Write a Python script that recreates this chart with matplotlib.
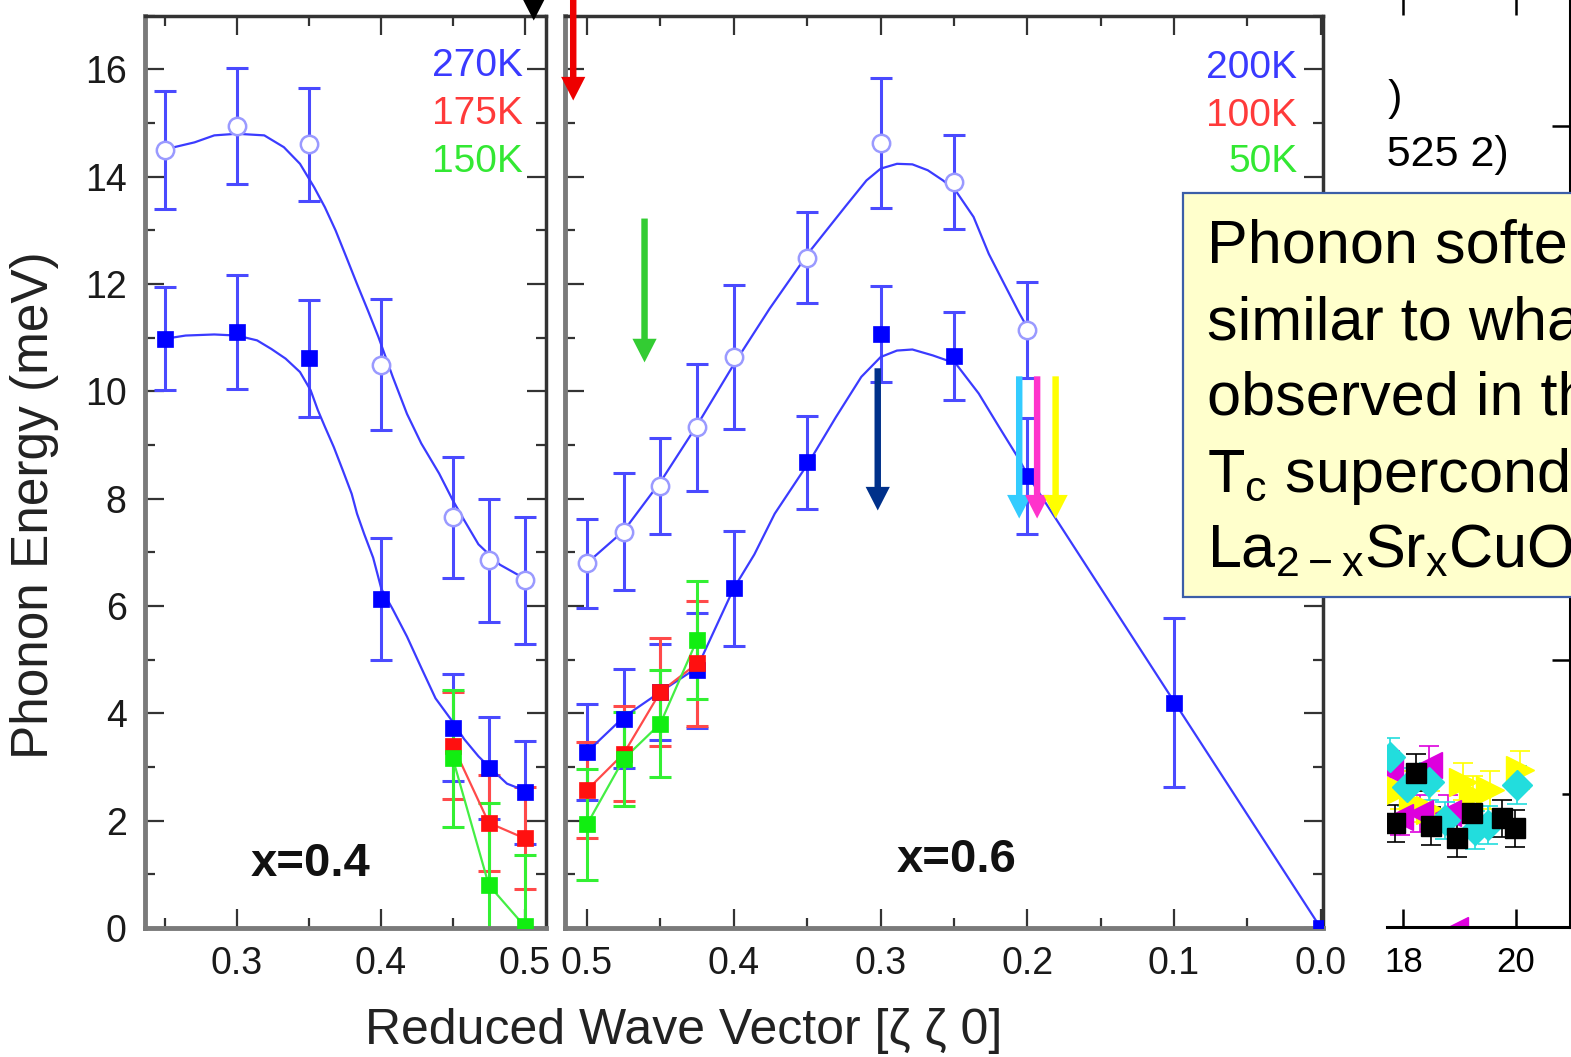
# phonon_dispersion.py
# Phonon softening: two dispersion panels + note box

import numpy as np
import matplotlib
matplotlib.use("Agg")
import matplotlib.pyplot as plt
from matplotlib.patches import Rectangle
from matplotlib.ticker import MultipleLocator, FormatStrFormatter, FixedLocator

plt.rcParams['font.family'] = ['Liberation Sans', 'DejaVu Sans']

# ===============================
# DATA
# ===============================
# --- left panel, x = 0.4 ---
q_left = [0.25, 0.30, 0.35, 0.40, 0.45, 0.475, 0.50]
e270_open = [14.50, 14.95, 14.60, 10.50, 7.65, 6.85, 6.48]
e270_open_err = [1.10, 1.08, 1.06, 1.22, 1.13, 1.14, 1.18]
e270_fill = [10.98, 11.10, 10.62, 6.13, 3.73, 2.98, 2.53]
e270_fill_err = [0.96, 1.06, 1.09, 1.14, 1.00, 0.95, 0.96]

q_left_low = [0.45, 0.475, 0.50]
e175 = [3.40, 1.96, 1.67]
e175_err = [1.00, 0.90, 0.95]
e150 = [3.16, 0.80, 0.03]
e150_err = [1.27, 1.53, 1.33]

# guide-to-the-eye curves (left panel)
fit_left_up_q = [0.2502, 0.2707, 0.2844, 0.300, 0.3191, 0.3327, 0.3439, 0.3538, 0.3612,
                 0.3686, 0.3761, 0.3835, 0.391, 0.3984, 0.4083, 0.4182, 0.4281, 0.4405,
                 0.450, 0.4579, 0.4678, 0.4827, 0.500]
fit_left_up_e = [14.51, 14.64, 14.77, 14.80, 14.77, 14.55, 14.24, 13.80, 13.43,
                 13.00, 12.50, 12.00, 11.51, 11.01, 10.27, 9.58, 9.03, 8.47,
                 7.97, 7.60, 7.15, 6.77, 6.51]
fit_left_lo_q = [0.2502, 0.2645, 0.2844, 0.300, 0.3141, 0.324, 0.3339, 0.3439, 0.3513,
                 0.3563, 0.3612, 0.3674, 0.3736, 0.3798, 0.3835, 0.3885, 0.3947, 0.4004,
                 0.4083, 0.4182, 0.4281, 0.438, 0.450, 0.4579, 0.4678, 0.4757, 0.4876, 0.500]
fit_left_lo_e = [10.98, 11.04, 11.06, 11.04, 10.95, 10.79, 10.61, 10.36, 10.02,
                 9.65, 9.34, 8.96, 8.53, 8.09, 7.72, 7.34, 6.90, 6.32,
                 5.94, 5.43, 4.85, 4.28, 3.84, 3.52, 3.20, 2.99, 2.69, 2.56]

# --- right panel, x = 0.6 ---
q_right_open = [0.50, 0.475, 0.45, 0.425, 0.40, 0.35, 0.30, 0.25, 0.20]
e200_open = [6.80, 7.38, 8.24, 9.33, 10.64, 12.49, 14.62, 13.90, 11.14]
e200_open_err = [0.83, 1.09, 0.90, 1.18, 1.35, 0.85, 1.21, 0.88, 0.90]

q_right_fill = [0.50, 0.475, 0.45, 0.425, 0.40, 0.35, 0.30, 0.25, 0.20, 0.10, 0.00]
e200_fill = [3.28, 3.90, 4.40, 4.80, 6.33, 8.68, 11.07, 10.66, 8.43, 4.20, 0.00]
e200_fill_err = [0.90, 0.92, 0.90, 1.07, 1.07, 0.87, 0.90, 0.82, 1.08, 1.57, 0.0]

q_right_low = [0.50, 0.475, 0.45, 0.425]
e100 = [2.57, 3.25, 4.40, 4.93]
e100_err = [0.90, 0.89, 1.00, 1.16]
e50 = [1.93, 3.15, 3.81, 5.37]
e50_err = [1.03, 0.87, 0.99, 1.10]

fit_right_up_q = [0.50, 0.475, 0.4493, 0.4243, 0.3996, 0.3756, 0.3488, 0.3235, 0.3096,
                  0.2999, 0.2888, 0.2783, 0.2678, 0.2574, 0.2488, 0.2366, 0.2262,
                  0.2157, 0.2053, 0.199]
fit_right_up_e = [6.80, 7.40, 8.34, 9.40, 10.52, 11.54, 12.59, 13.46, 13.93,
                  14.15, 14.24, 14.23, 14.12, 13.93, 13.74, 13.25, 12.56,
                  12.00, 11.45, 11.14]
fit_right_lo_q = [0.50, 0.475, 0.45, 0.425, 0.40, 0.386, 0.3721, 0.3488, 0.3304, 0.3131,
                  0.2999, 0.2888, 0.2783, 0.2644, 0.2488, 0.2331, 0.2193, 0.2053,
                  0.20, 0.10, 0.00]
fit_right_lo_e = [3.28, 3.93, 4.40, 4.85, 6.33, 6.96, 7.72, 8.68, 9.52, 10.27,
                  10.64, 10.76, 10.78, 10.67, 10.52, 9.96, 9.34, 8.72,
                  8.45, 4.22, 0.00]

# --- arrows marking the soft-mode positions (right panel) ---
arrow_q = [0.5094, 0.4608, 0.3019, 0.2055, 0.1933, 0.1807]
arrow_top = [19.0, 13.22, 10.43, 10.28, 10.28, 10.28]
arrow_tip = [15.42, 10.54, 7.78, 7.63, 7.63, 7.63]
arrow_colors = ['#ee0000', '#33cc33', '#00308a', '#33ccff', '#ff33cc', '#ffff00']

# --- partial neighbouring plot at the right edge ---
p3_black_x = [18.23, 17.85, 18.49, 18.96, 19.23, 19.75, 19.99]
p3_black_y = [0.578, 0.388, 0.378, 0.332, 0.426, 0.407, 0.370]
p3_cyan_x = [17.76, 18.06, 18.45, 18.74, 19.28, 19.51, 20.02]
p3_cyan_y = [0.638, 0.525, 0.544, 0.400, 0.363, 0.382, 0.532]
p3_mag_x = [17.76, 17.94, 18.30, 18.45, 18.80, 18.92]
p3_mag_y = [0.588, 0.413, 0.426, 0.607, 0.426, -0.01]
p3_mag_err = [0.07, 0.07, 0.07, 0.07, 0.07, 0.0]
p3_yel_x = [17.94, 18.18, 18.47, 19.07, 19.25, 19.54, 20.08]
p3_yel_y = [0.513, 0.463, 0.438, 0.544, 0.494, 0.513, 0.588]
p3_err = 0.07

note_lines = ["Phonon softening",
              "similar to what is",
              "observed in the high",
              r"T$_\mathregular{c}$ superconductor",
              r"La$_\mathregular{2-x}$Sr$_\mathregular{x}$CuO$_\mathregular{4}$"]

# ===============================
# FIGURE LAYOUT (pixel boxes)
# ===============================
W, H = 1571, 1057
fig = plt.figure(figsize=(W / 100, H / 100), dpi=100)


def px_box(x0, y0, x1, y1):
    return [x0 / W, 1 - y1 / H, (x1 - x0) / W, (y1 - y0) / H]


ax1 = fig.add_axes(px_box(144.6, 15.7, 546.4, 928))
ax2 = fig.add_axes(px_box(565, 15.7, 1323, 928))
ax3 = fig.add_axes(px_box(1387, -3, 1570, 927))

BLUE = '#0000ff'
BLUE_LINE = '#3b3bff'
BLUE_ERR = '#4a4aff'
RED = '#ff1010'
GREEN = '#11ee11'


def style_panel(ax):
    ax.set_ylim(0, 17)
    ax.yaxis.set_major_locator(MultipleLocator(2))
    ax.yaxis.set_minor_locator(MultipleLocator(1))
    ax.xaxis.set_major_locator(MultipleLocator(0.1))
    ax.xaxis.set_minor_locator(MultipleLocator(0.05))
    ax.xaxis.set_major_formatter(FormatStrFormatter('%.1f'))
    ax.tick_params(which='both', direction='in', top=True, right=True,
                   color='#333333', width=1.6, labelsize=27,
                   labelcolor='#1a1a1a', pad=13)
    ax.tick_params(which='major', length=14)
    ax.tick_params(which='minor', length=7)
    for side in ('left', 'bottom'):
        ax.spines[side].set_color('#7a7a7a')
        ax.spines[side].set_linewidth(3.5)
    for side in ('top', 'right'):
        ax.spines[side].set_color('#333333')
        ax.spines[side].set_linewidth(2.5)


def err_series(ax, q, e, err, color, lw=2.2):
    q = np.asarray(q)
    e = np.asarray(e)
    err = np.asarray(err)
    m = err > 0
    ax.errorbar(q[m], e[m], yerr=err[m], fmt='none', ecolor=color,
                elinewidth=lw, capsize=8, capthick=2.2, zorder=2)


def squares(ax, q, e, color, z=4):
    ax.plot(q, e, 's', ms=11.5, color=color, mec=color, mew=0.5, zorder=z)


def circles(ax, q, e):
    ax.plot(q, e, 'o', ms=12.5, mfc='white', mec='#9a9aff', mew=1.8, zorder=4)


# ===============================
# LEFT PANEL  x = 0.4
# ===============================
style_panel(ax1)
ax1.set_xlim(0.236, 0.515)

err_series(ax1, q_left, e270_open, e270_open_err, BLUE_ERR)
err_series(ax1, q_left, e270_fill, e270_fill_err, BLUE_ERR)
err_series(ax1, q_left_low, e175, e175_err, '#ff4a4a')
err_series(ax1, q_left_low, e150, e150_err, '#33f033')

ax1.plot(fit_left_up_q, fit_left_up_e, color=BLUE_LINE, lw=1.6, zorder=3)
ax1.plot(fit_left_lo_q, fit_left_lo_e, color=BLUE_LINE, lw=1.6, zorder=3)
ax1.plot(q_left_low, e175, color='#ff4a4a', lw=1.6, zorder=3)
ax1.plot(q_left_low, e150, color='#44ee44', lw=1.6, zorder=3)

circles(ax1, q_left, e270_open)
squares(ax1, q_left, e270_fill, BLUE)
squares(ax1, q_left_low, e175, RED, z=5)
squares(ax1, q_left_low, e150, GREEN, z=6)

for txt, yb, c in [('270K', 15.88, '#3a3aff'), ('175K', 14.99, '#ff3a3a'),
                   ('150K', 14.08, '#33e833')]:
    ax1.text(0.4986, yb, txt, color=c, fontsize=28, ha='right', va='baseline')
ax1.text(0.351, 0.968, 'x=0.4', fontsize=34, fontweight='bold',
         ha='center', va='baseline', color='#111111')

# ===============================
# RIGHT PANEL  x = 0.6
# ===============================
style_panel(ax2)
ax2.set_xlim(0.515, -0.0015)
ax2.tick_params(which='both', labelleft=False)

err_series(ax2, q_right_open, e200_open, e200_open_err, BLUE_ERR)
err_series(ax2, q_right_fill, e200_fill, e200_fill_err, BLUE_ERR)
err_series(ax2, q_right_low, e100, e100_err, '#ff4a4a')
err_series(ax2, q_right_low, e50, e50_err, '#33f033')

ax2.plot(fit_right_up_q, fit_right_up_e, color=BLUE_LINE, lw=1.6, zorder=3)
ax2.plot(fit_right_lo_q, fit_right_lo_e, color=BLUE_LINE, lw=1.6, zorder=3)
ax2.plot(q_right_low, e100, color='#ff4a4a', lw=1.6, zorder=3)
ax2.plot(q_right_low, e50, color='#44ee44', lw=1.6, zorder=3)

circles(ax2, q_right_open, e200_open)
squares(ax2, q_right_fill, e200_fill, BLUE)
squares(ax2, q_right_low, e100, RED, z=5)
squares(ax2, q_right_low, e50, GREEN, z=6)

for txt, yb, c in [('200K', 15.83, '#3a3aff'), ('100K', 14.95, '#ff3a3a'),
                   ('50K', 14.08, '#33e833')]:
    ax2.text(0.016, yb, txt, color=c, fontsize=28, ha='right', va='baseline')
ax2.text(0.2483, 1.04, 'x=0.6', fontsize=34, fontweight='bold',
         ha='center', va='baseline', color='#111111')

# arrows (sizes: x in q units, y in meV)
for q, y0, y1, c in zip(arrow_q, arrow_top, arrow_tip, arrow_colors):
    ax2.arrow(q, y0, 0, y1 - y0, width=0.0044, head_width=0.0165,
              head_length=0.44, length_includes_head=True,
              color=c, lw=0, zorder=8, clip_on=False)

# black arrow tip entering from the top of the left panel
ax1.arrow(0.5062, 19.0, 0, 16.91 - 19.0, width=0.0042, head_width=0.018,
          head_length=0.47, length_includes_head=True, color='black',
          lw=0, zorder=8, clip_on=False)

# axis labels
fig.text(684 / W, 1 - 1044 / H, 'Reduced Wave Vector [\u03b6 \u03b6 0]',
         fontsize=36, color='#222222', ha='center', va='baseline')
fig.text(48 / W, 1 - 505 / H, 'Phonon Energy (meV)', fontsize=37,
         color='#222222', rotation=90, rotation_mode='anchor',
         ha='center', va='baseline')

# ===============================
# PARTIAL NEIGHBOUR PLOT (right edge)
# ===============================
ax3.set_xlim(17.71, 20.97)
ax3.set_ylim(0, 930 / 267)
ax3.spines['left'].set_visible(False)
for side in ('bottom', 'right', 'top'):
    ax3.spines[side].set_color('black')
    ax3.spines[side].set_linewidth(2.2)
ax3.xaxis.set_major_locator(FixedLocator([18, 20]))
ax3.yaxis.set_major_locator(FixedLocator([1, 2, 3]))
ax3.yaxis.set_minor_locator(FixedLocator([0.5, 1.5, 2.5]))
ax3.tick_params(which='both', direction='in', top=True, right=True, left=False,
                labelleft=False, color='black', width=1.8, labelsize=25, pad=14)
ax3.tick_params(which='major', length=13)
ax3.tick_params(which='minor', length=6)

for xs, ys, er, mk, c, ms in [(p3_yel_x, p3_yel_y, p3_err, '>', '#ffff00', 20),
                              (p3_mag_x, p3_mag_y, p3_mag_err, '<', '#dd00dd', 19),
                              (p3_cyan_x, p3_cyan_y, p3_err, 'D', '#22dddd', 15),
                              (p3_black_x, p3_black_y, p3_err, 's', 'black', 15)]:
    ax3.errorbar(xs, ys, yerr=er, fmt=mk, ms=ms, color=c, mec=c,
                 ecolor=c, elinewidth=1.2, capsize=7, capthick=1.2)

ax3.text(17.98, 3.06, '(0.475 0.475 2)', fontsize=31, ha='right',
         va='baseline', clip_on=True)
ax3.text(19.87, 2.85, '(0.525 0.525 2)', fontsize=31, ha='right',
         va='baseline', clip_on=True)

# ===============================
# NOTE BOX
# ===============================
box = Rectangle((1183.3 / W, 1 - 596.7 / H), (1620 - 1183.3) / W, (596.7 - 192.7) / H,
                transform=fig.transFigure, facecolor='#ffffcc',
                edgecolor='#3b5ea8', lw=1.6, zorder=5)
fig.add_artist(box)
for line, yb in zip(note_lines, [263, 340, 415, 491.7, 566.7]):
    fig.text(1206.7 / W, 1 - yb / H, line, fontsize=44, color='black',
             ha='left', va='baseline', zorder=6)

plt.savefig("out.png", dpi=100)
